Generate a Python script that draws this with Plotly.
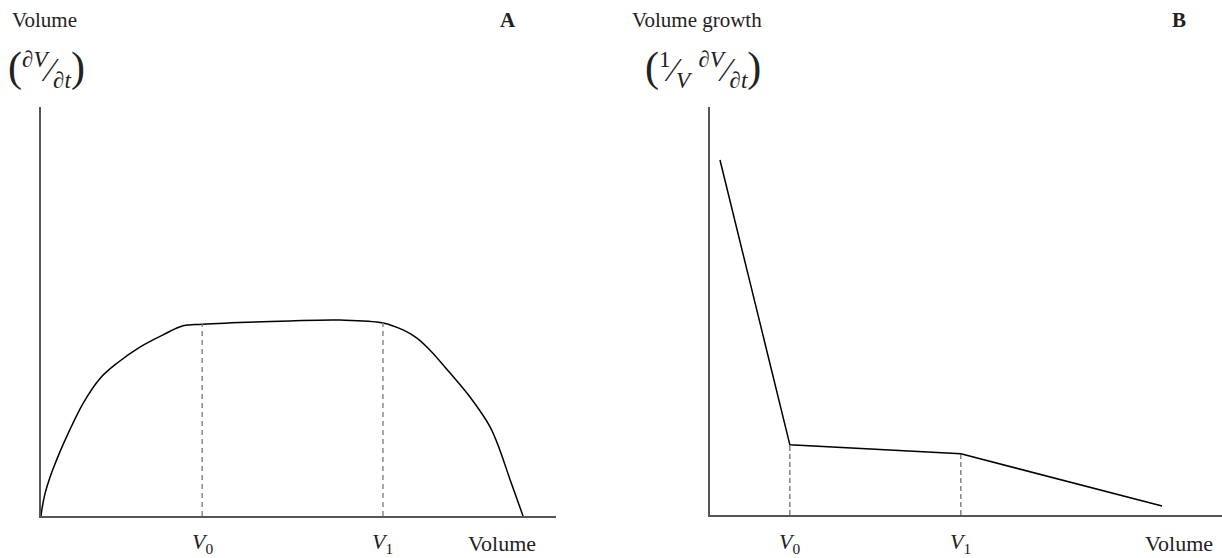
import plotly.graph_objects as go

# ---- data (panel A: volume vs dV/dt) ----
a_volume = [0, 0.25, 0.8, 1.75, 2.9, 4.3, 8.2, 11.5, 14.8, 19.2, 23.7, 27.6, 31.3, 48.3,
            58.1, 66.4, 70.3, 73.0, 75.5, 79.4, 83.3, 87.2, 89.1, 91.1, 93.6]
a_rate = [0, 2.2, 5.6, 9.5, 13.3, 17.5, 27.6, 33.7, 37.4, 41.3, 44.3, 46.5, 46.9, 47.7,
          47.9, 47.2, 45.5, 43.5, 40.6, 35.0, 29.1, 21.8, 16.1, 8.8, 0]
a_marks = [31.3, 66.4]
a_mark_heights = [46.9, 47.2]

# ---- data (panel B: volume vs relative growth) ----
b_volume = [1.95, 15.6, 49.0, 88.3]
b_growth = [87.0, 17.2, 15.0, 2.2]
b_marks = [15.6, 49.0]
b_mark_heights = [17.2, 15.0]

tick_labels = ["<i>V</i><sub>0</sub>", "<i>V</i><sub>1</sub>", "Volume"]
a_label_pos = [31.3, 66.4, 89.5]
b_label_pos = [15.6, 49.0, 91.6]

FONT = "Liberation Serif"
W, H = 1222, 558

fig = go.Figure()

fig.add_trace(go.Scatter(x=a_volume, y=a_rate, mode="lines",
                         line=dict(color="black", width=1.5, shape="spline", smoothing=1.0),
                         xaxis="x", yaxis="y", showlegend=False, hoverinfo="skip"))
for xv, yv in zip(a_marks, a_mark_heights):
    fig.add_trace(go.Scatter(x=[xv, xv], y=[0, yv], mode="lines",
                             line=dict(color="#8a8a8a", width=1.5, dash="5px,4px"),
                             xaxis="x", yaxis="y", showlegend=False, hoverinfo="skip"))

fig.add_trace(go.Scatter(x=b_volume, y=b_growth, mode="lines",
                         line=dict(color="black", width=1.5),
                         xaxis="x2", yaxis="y2", showlegend=False, hoverinfo="skip"))
for xv, yv in zip(b_marks, b_mark_heights):
    fig.add_trace(go.Scatter(x=[xv, xv], y=[0, yv], mode="lines",
                             line=dict(color="#444444", width=1, dash="5px,3px"),
                             xaxis="x2", yaxis="y2", showlegend=False, hoverinfo="skip"))

axis_common = dict(showgrid=False, zeroline=False, showticklabels=False, ticks="",
                   showline=True, linecolor="#555555", linewidth=1.5, fixedrange=True)

fig.update_layout(
    width=W, height=H,
    margin=dict(l=0, r=0, t=0, b=0),
    paper_bgcolor="white", plot_bgcolor="white",
    font=dict(family=FONT, size=21, color="#222222"),
    xaxis=dict(domain=[41 / W, 556 / W], range=[0, 100], anchor="y", **axis_common),
    yaxis=dict(domain=[1 - 516 / H, 1 - 107 / H], range=[0, 100], anchor="x", **axis_common),
    xaxis2=dict(domain=[710 / W, 1.0], range=[0, 100], anchor="y2", **axis_common),
    yaxis2=dict(domain=[1 - 515 / H, 1 - 107 / H], range=[0, 100], anchor="x2", **axis_common),
)

ann = []
label_y = 1 - 543 / H
for pos, txt in zip(a_label_pos, tick_labels):
    ann.append(dict(x=pos, y=label_y, xref="x", yref="paper", text=txt, showarrow=False,
                    xanchor="center", yanchor="middle", font=dict(size=22)))
for pos, txt in zip(b_label_pos, tick_labels):
    ann.append(dict(x=pos, y=label_y, xref="x2", yref="paper", text=txt, showarrow=False,
                    xanchor="center", yanchor="middle", font=dict(size=22)))

top_y = 1 - 20 / H
ann.append(dict(x=10 / W, y=top_y, xref="paper", yref="paper", text="Volume",
                showarrow=False, xanchor="left", yanchor="middle"))
ann.append(dict(x=508 / W, y=top_y, xref="paper", yref="paper", text="<b>A</b>",
                showarrow=False, xanchor="center", yanchor="middle"))
ann.append(dict(x=630 / W, y=top_y, xref="paper", yref="paper", text="Volume growth",
                showarrow=False, xanchor="left", yanchor="middle"))
ann.append(dict(x=1179 / W, y=top_y, xref="paper", yref="paper", text="<b>B</b>",
                showarrow=False, xanchor="center", yanchor="middle"))

paren_l = "<span style='font-size:42px'>(</span>"
paren_r = "<span style='font-size:42px'>)</span>"
formula_a = paren_l + "<sup>∂<i>V</i></sup>⁄<sub>∂<i>t</i></sub>" + paren_r
formula_b = (paren_l + "<sup>1</sup>⁄<sub><i>V</i></sub> <sup>∂<i>V</i></sup>⁄<sub>∂<i>t</i></sub>"
             + paren_r)
form_y = 1 - 68 / H
ann.append(dict(x=6 / W, y=form_y, xref="paper", yref="paper", text=formula_a,
                showarrow=False, xanchor="left", yanchor="middle", font=dict(size=33)))
ann.append(dict(x=643 / W, y=form_y, xref="paper", yref="paper", text=formula_b,
                showarrow=False, xanchor="left", yanchor="middle", font=dict(size=33)))

fig.update_layout(annotations=ann)
fig.write_html("out.html")
